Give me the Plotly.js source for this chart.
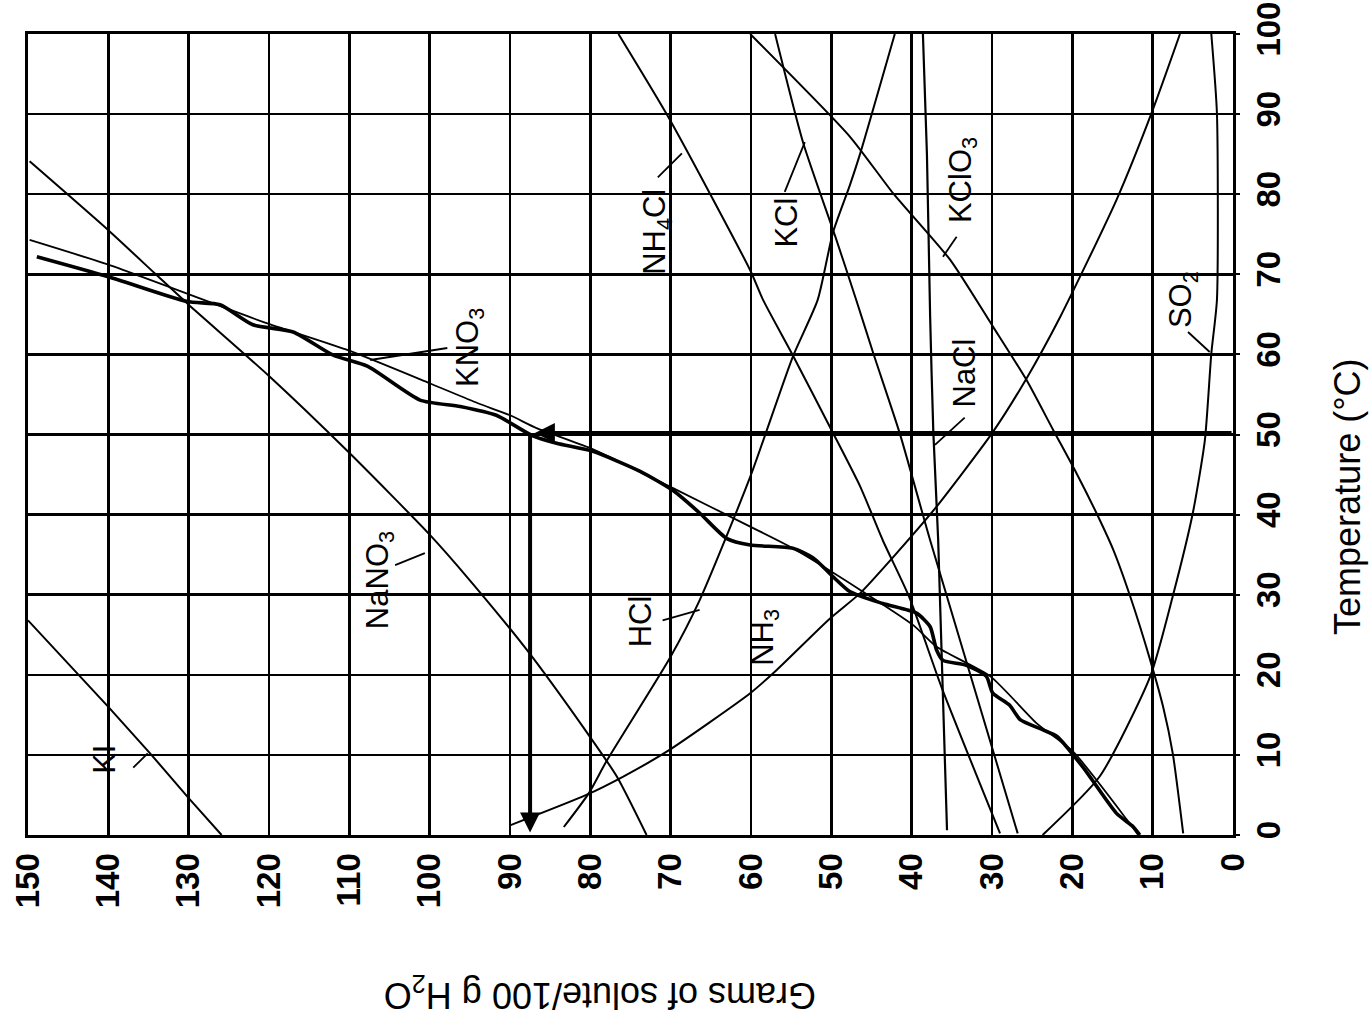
<!DOCTYPE html>
<html>
<head>
<meta charset="utf-8">
<script src="https://cdn.plot.ly/plotly-3.0.1.min.js"></script>
<style>html,body{margin:0;padding:0;background:#fff;}#chart{width:1369px;height:1015px;}</style>
</head>
<body>
<div id="chart"></div>
<script>
// Grams of solute per 100 g H2O (x) vs temperature in degrees C (y)
const kiT = [0, 4.6, 10.2, 16, 26.8];
const kiG = [125.9, 130, 134.8, 140, 150];

const nano3T = [0, 7.3, 12.9, 23.1, 31.8, 37.5, 47.9, 57.4, 66.2, 70.1, 75.5, 84.1];
const nano3G = [73, 76.7, 80.5, 87.9, 95, 100, 110.2, 120.1, 130, 134.2, 140, 149.8];

const kno3T = [0, 1.9, 10.4, 13.9, 19.8, 23.5, 26.2, 30.6, 35.8, 38.5, 43.3, 48.3, 50.8, 52.4, 53.9, 56.4, 60.5, 63.9, 71.2, 74.3];
const kno3G = [11.8, 13.2, 19.9, 24.4, 30.2, 36.9, 39.8, 46.4, 54.8, 60.1, 69.7, 80, 86.7, 90, 94, 100, 110.1, 120.3, 140, 149.8];

// hand-drawn trace over the KNO3 curve
const kno3DrawnT = [0, 1.0, 2.7, 8.5, 12.3, 13.1, 14.4, 16.2, 17.7, 19.8, 21.2, 21.8, 23.1, 26, 27.7, 28.9, 30.4, 34.6, 35.8, 36.2, 37, 40.2, 43, 45.4, 47.9, 48.9, 49.9, 52.4, 53.5, 54.3, 58.5, 59.9, 62.8, 63.7, 66.2, 66.6, 69.7, 72.2];
const kno3DrawnG = [11.6, 12.4, 14.5, 18.7, 21.9, 23.6, 26.5, 27.8, 29.9, 30.7, 33.2, 36.1, 36.9, 37.7, 39.4, 43.6, 47.7, 52.3, 54.8, 60.1, 63, 66.4, 69.7, 73.8, 79.7, 84.2, 87.3, 91.7, 96.2, 101.2, 107.7, 112, 117, 122, 126.1, 130.2, 140, 148.9];

const hclT = [1.0, 5.2, 9.2, 22.1, 29.3, 44.7, 59.7, 66.8, 75.2, 81.1, 85.1, 100];
const hclG = [83.3, 80.2, 78, 70.1, 66.4, 60.1, 54.8, 51.7, 49.8, 47.7, 46.4, 42.1];

const nh3T = [1.2, 5, 7.3, 10.4, 17.7, 20.6, 27, 30.2, 34.7, 41, 50.3, 57, 64.7, 79.3, 90.5, 100];
const nh3G = [90, 80.5, 75.9, 70.5, 60.1, 56.8, 50.2, 46.4, 42.3, 36.9, 29.9, 25.7, 21.5, 14.5, 10, 6.6];

const nh4clT = [0.2, 18.5, 29.7, 36.8, 43.5, 50.6, 59.9, 66.8, 70.5, 89.3, 100];
const nh4clG = [29.0, 36.3, 40.3, 43.6, 46.4, 50, 54.8, 58.5, 60.1, 70.1, 76.5];

const kclT = [0.2, 36.8, 50.2, 60.2, 66.8, 74.7, 86.4, 100];
const kclG = [26.8, 37.7, 41.5, 44.8, 46.9, 49.5, 53.5, 57];

const kclo3T = [0.2, 10.2, 16, 21.8, 29.8, 35.6, 40.2, 45.2, 50.6, 56.8, 63.5, 71.8, 80.1, 87.2, 100];
const kclo3G = [6.2, 7.5, 8.7, 10.3, 12.8, 14.9, 17, 19.5, 22.4, 25.7, 29.9, 35.2, 42.3, 47.7, 60.1];

const naclT = [0.6, 36.8, 50.2, 64.7, 85, 100];
const naclG = [35.6, 36.7, 37.3, 37.7, 38.1, 38.6];

const so2T = [0, 7.3, 19.8, 29.8, 40.2, 49.3, 60.1, 66.8, 90.1, 100];
const so2G = [23.7, 16.6, 10.3, 7.5, 5, 3.5, 2.7, 2, 2, 2.7];

// Tick labels
const gramTicks = [0, 10, 20, 30, 40, 50, 60, 70, 80, 90, 100, 110, 120, 130, 140, 150];
const tempTicks = [0, 10, 20, 30, 40, 50, 60, 70, 80, 90, 100];

// Read-off example: 50 degrees C -> about 87.5 g
const readTemp = 50.2;
const readGrams = 87.5;

// Curve labels
const labelTexts = ['KI', 'NaNO<sub>3</sub>', 'KNO<sub>3</sub>', 'HCl', 'NH<sub>3</sub>', 'NH<sub>4</sub>Cl', 'KCl', 'KClO<sub>3</sub>', 'NaCl', 'SO<sub>2</sub>'];
const labelG = [140.4, 106.2, 95, 73.8, 58.3, 71.7, 55.6, 33.7, 33.4, 6.2];
const labelT = [9.4, 31.8, 60.9, 26.7, 24.7, 75.3, 76.5, 81.8, 57.7, 66.8];

// Leader lines [g0, T0, g1, T1]
const leaders = [
  [136.9, 8.4, 135.1, 10.2],
  [104.3, 33.7, 100.6, 35.2],
  [107.4, 59.3, 97.8, 60.8],
  [71.0, 26.8, 66.4, 28.1],
  [71.6, 82.1, 68.6, 85.1],
  [55.8, 80.3, 53.3, 86.5],
  [36.1, 72.2, 34.4, 74.7],
  [37.1, 48.7, 33.4, 52.1],
  [5.6, 62.8, 2.9, 60.3]
];

function curve(g, t, w, shape) {
  return {x: g, y: t, type: 'scatter', mode: 'lines',
          line: {color: '#000', width: w, shape: shape || 'spline', smoothing: 0.6},
          hoverinfo: 'skip', showlegend: false};
}

const traces = [
  curve(kiG, kiT, 2, 'linear'),
  curve(nano3G, nano3T, 2),
  curve(kno3G, kno3T, 1.8),
  curve(kno3DrawnG, kno3DrawnT, 3.6),
  curve(hclG, hclT, 2),
  curve(nh3G, nh3T, 2),
  curve(nh4clG, nh4clT, 2),
  curve(kclG, kclT, 2),
  curve(kclo3G, kclo3T, 2),
  curve(naclG, naclT, 2.2),
  curve(so2G, so2T, 2)
];

const lblFont = {family: 'Liberation Sans, Arial, sans-serif', size: 31, color: '#000'};
const annotations = labelTexts.map((t, i) => ({
  x: labelG[i], y: labelT[i], xref: 'x', yref: 'y', text: t, showarrow: false,
  textangle: -90, font: lblFont, xanchor: 'center', yanchor: 'middle'
}));

// Read-off arrows
annotations.push({x: readGrams - 0.6, y: readTemp, ax: 0, ay: readTemp, xref: 'x', yref: 'y', axref: 'x', ayref: 'y',
  text: '', showarrow: true, arrowhead: 2, arrowsize: 1, arrowwidth: 4, arrowcolor: '#000'});
annotations.push({x: readGrams, y: 0.3, ax: readGrams, ay: readTemp, xref: 'x', yref: 'y', axref: 'x', ayref: 'y',
  text: '', showarrow: true, arrowhead: 2, arrowsize: 1, arrowwidth: 4, arrowcolor: '#000'});

// Axis titles
annotations.push({x: 1.0954, y: 0.422, xref: 'paper', yref: 'paper', xanchor: 'center', yanchor: 'middle',
  text: 'Temperature (°C)', showarrow: false,
  textangle: -90, font: {family: 'Liberation Sans, Arial, sans-serif', size: 36, color: '#000'}});
annotations.push({x: 0.4747, y: -0.197, xref: 'paper', yref: 'paper', xanchor: 'center', yanchor: 'middle',
  text: 'Grams of solute/100 g H<sub>2</sub>O', showarrow: false,
  textangle: 180, font: {family: 'Liberation Sans, Arial, sans-serif', size: 36, color: '#000'}});

const shapes = leaders.map(l => ({type: 'line', xref: 'x', yref: 'y', x0: l[0], y0: l[1], x1: l[2], y1: l[3],
  line: {color: '#000', width: 1.8}}));

const tickFont = {family: 'Liberation Sans, Arial, sans-serif', size: 33, color: '#000', weight: 'bold'};

const layout = {
  width: 1369, height: 1015,
  margin: {l: 28, r: 136, t: 34, b: 180},
  paper_bgcolor: '#fff', plot_bgcolor: '#fff',
  showlegend: false,
  xaxis: {
    range: [150, 0], tickmode: 'array', tickvals: gramTicks, ticktext: gramTicks.map(String),
    tickangle: -90, tickfont: tickFont, ticklabelstandoff: 2,
    showgrid: true, gridcolor: '#000', gridwidth: 2.5, zeroline: false,
    showline: true, mirror: true, linecolor: '#000', linewidth: 3, ticks: ''
  },
  yaxis: {
    range: [0, 100], side: 'right', tickmode: 'array', tickvals: tempTicks, ticktext: tempTicks.map(String),
    tickangle: -90, tickfont: tickFont, ticklabelstandoff: 0,
    showgrid: true, gridcolor: '#000', gridwidth: 2.5, zeroline: false,
    showline: true, mirror: true, linecolor: '#000', linewidth: 3, ticks: 'outside', ticklen: 4, tickwidth: 2, tickcolor: '#000'
  },
  annotations: annotations,
  shapes: shapes
};

Plotly.newPlot('chart', traces, layout, {staticPlot: true, displayModeBar: false});
</script>
</body>
</html>
